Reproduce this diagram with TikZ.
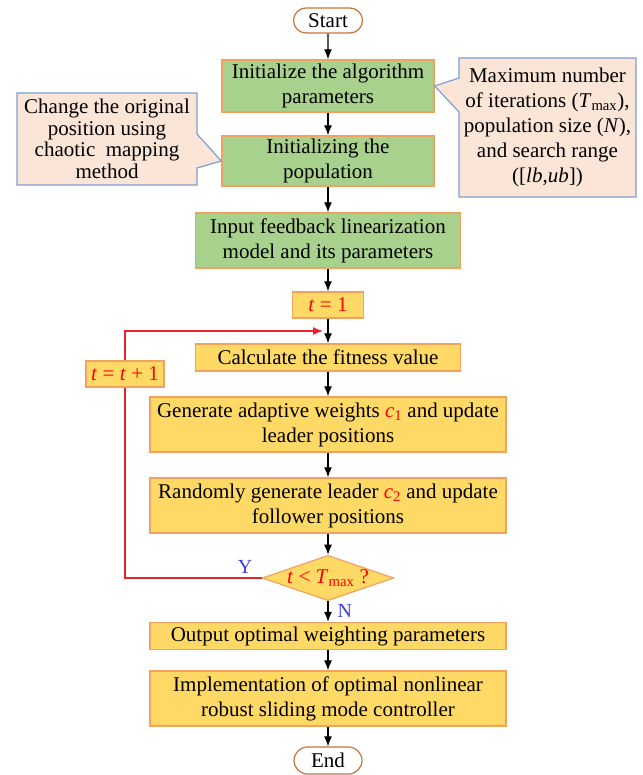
\documentclass[tikz,border=0pt]{standalone}
\usepackage{fontspec}
\setmainfont{Liberation Serif}
\usetikzlibrary{arrows.meta}
\usetikzlibrary{shapes.geometric}
\usetikzlibrary{shapes.misc}
\usetikzlibrary{shapes.callouts}

\definecolor{boxgreen}{HTML}{A9D18E}
\definecolor{boxyellow}{HTML}{FFD966}
\definecolor{boxedge}{HTML}{F2A25E}
\definecolor{notefill}{HTML}{FBE5D6}
\definecolor{noteedge}{HTML}{7F9DD6}
\definecolor{termedge}{HTML}{C8733A}
\definecolor{loopred}{HTML}{E8242B}
\definecolor{ynblue}{HTML}{3B3BE6}

\newcommand{\mx}[1]{\textit{#1}}

\tikzset{
  proc/.style={draw=boxedge, line width=1.4pt, align=center, inner sep=1pt,
    font=\fontsize{21}{25}\selectfont},
  initbox/.style={proc, fill=boxgreen},
  loopbox/.style={proc, fill=boxyellow},
  term/.style={rounded rectangle, draw=termedge, line width=1.2pt, fill=white,
    inner sep=1pt, font=\fontsize{21}{25}\selectfont},
  note/.style={rectangle callout, draw=noteedge, line width=1.2pt, fill=notefill,
    align=center, inner sep=1pt, callout pointer width=34pt},
  flow/.style={line width=1.2pt, ->},
  back/.style={line width=1.2pt, draw=loopred},
  yn/.style={text=ynblue, font=\fontsize{20}{22}\selectfont}
}

\begin{document}
\begin{tikzpicture}[x=1pt, y=-1pt, >={Latex[length=10pt,width=8pt]}]
  \useasboundingbox (0,0) rectangle (642,775);

%%%%%%%%%%%% Initialization
  \node[term, minimum width=71pt, minimum height=25pt] (start) at (328,20.5) {Start};
  \node[initbox, minimum width=212pt, minimum height=52pt] (init) at (328,86)
    {Initialize the algorithm\\parameters};
  \node[initbox, minimum width=212pt, minimum height=50pt] (popu) at (328,161)
    {Initializing the\\population};
  \node[initbox, minimum width=265pt, minimum height=55pt] (model) at (328,240.5)
    {Input feedback linearization\\model and its parameters};
  \node[loopbox, minimum width=71pt, minimum height=26pt] (tone) at (328,305)
    {\textcolor{red}{\mx{t} = 1}};

  \node[note, minimum width=180pt, minimum height=92pt,
        font=\fontsize{21}{21.5}\selectfont,
        callout absolute pointer={(popu.west)}] (chaos) at (107,139)
    {Change the original\\position using\\chaotic\ \ mapping\\method};
  \node[note, minimum width=177pt, minimum height=139pt,
        font=\fontsize{21}{25}\selectfont,
        callout absolute pointer={(init.east)}] (params) at (547.5,127.5)
    {Maximum number\\of iterations (\mx{T}\textsubscript{max}),\\population size (\mx{N}),\\and search range\\([\mx{lb},\mx{ub}])};

%%%%%%%%%%%% Iteration
  \node[loopbox, minimum width=265pt, minimum height=27pt] (fit) at (328,357.5)
    {Calculate the fitness value};
  \node[loopbox, minimum width=356pt, minimum height=55pt] (lead) at (328,424.5)
    {Generate adaptive weights \textcolor{red}{\mx{c}\textsubscript{1}} and update\\leader positions};
  \node[loopbox, minimum width=356pt, minimum height=55pt] (follow) at (328,505.5)
    {Randomly generate leader \textcolor{red}{\mx{c}\textsubscript{2}} and update\\follower positions};
  \node[diamond, draw=boxedge, line width=1.2pt, fill=boxyellow, inner sep=0pt,
        aspect=2.9, minimum width=128pt, minimum height=44pt,
        font=\fontsize{21}{25}\selectfont] (cond) at (328,578)
    {\textcolor{red}{\mx{t} < \mx{T}\textsubscript{max} ?}};
  \node[loopbox, minimum width=78pt, minimum height=26pt] (incr) at (125,374)
    {\textcolor{red}{\mx{t} = \mx{t} + 1}};
  \coordinate (back) at (323,331);

%%%%%%%%%%%% Output
  \node[loopbox, minimum width=356pt, minimum height=27pt] (outp) at (328,636)
    {Output optimal weighting parameters};
  \node[loopbox, minimum width=356pt, minimum height=55pt] (impl) at (328,698.5)
    {Implementation of optimal nonlinear\\robust sliding mode controller};
  \node[term, minimum width=70pt, minimum height=27pt] (stop) at (328,760.5) {End};

  \node[yn] (ylab) at (245,567) {Y};
  \node[yn, anchor=west] (nlab) at (334,611) {N};

  \draw[flow] (start) -- (init);
  \draw[flow] (init) -- (popu);
  \draw[flow] (popu) -- (model);
  \draw[flow] (model) -- (tone);
  \draw[flow] (tone) -- (fit);
  \draw[flow] (fit) -- (lead);
  \draw[flow] (lead) -- (follow);
  \draw[flow] (follow) -- (cond);
  \draw[flow] (cond) -- (outp);
  \draw[flow] (outp) -- (impl);
  \draw[flow] (impl) -- (stop);

  \draw[back] (cond.west) -| (incr.south);
  \draw[back, ->] (incr.north) |- (back);
\end{tikzpicture}
\end{document}
